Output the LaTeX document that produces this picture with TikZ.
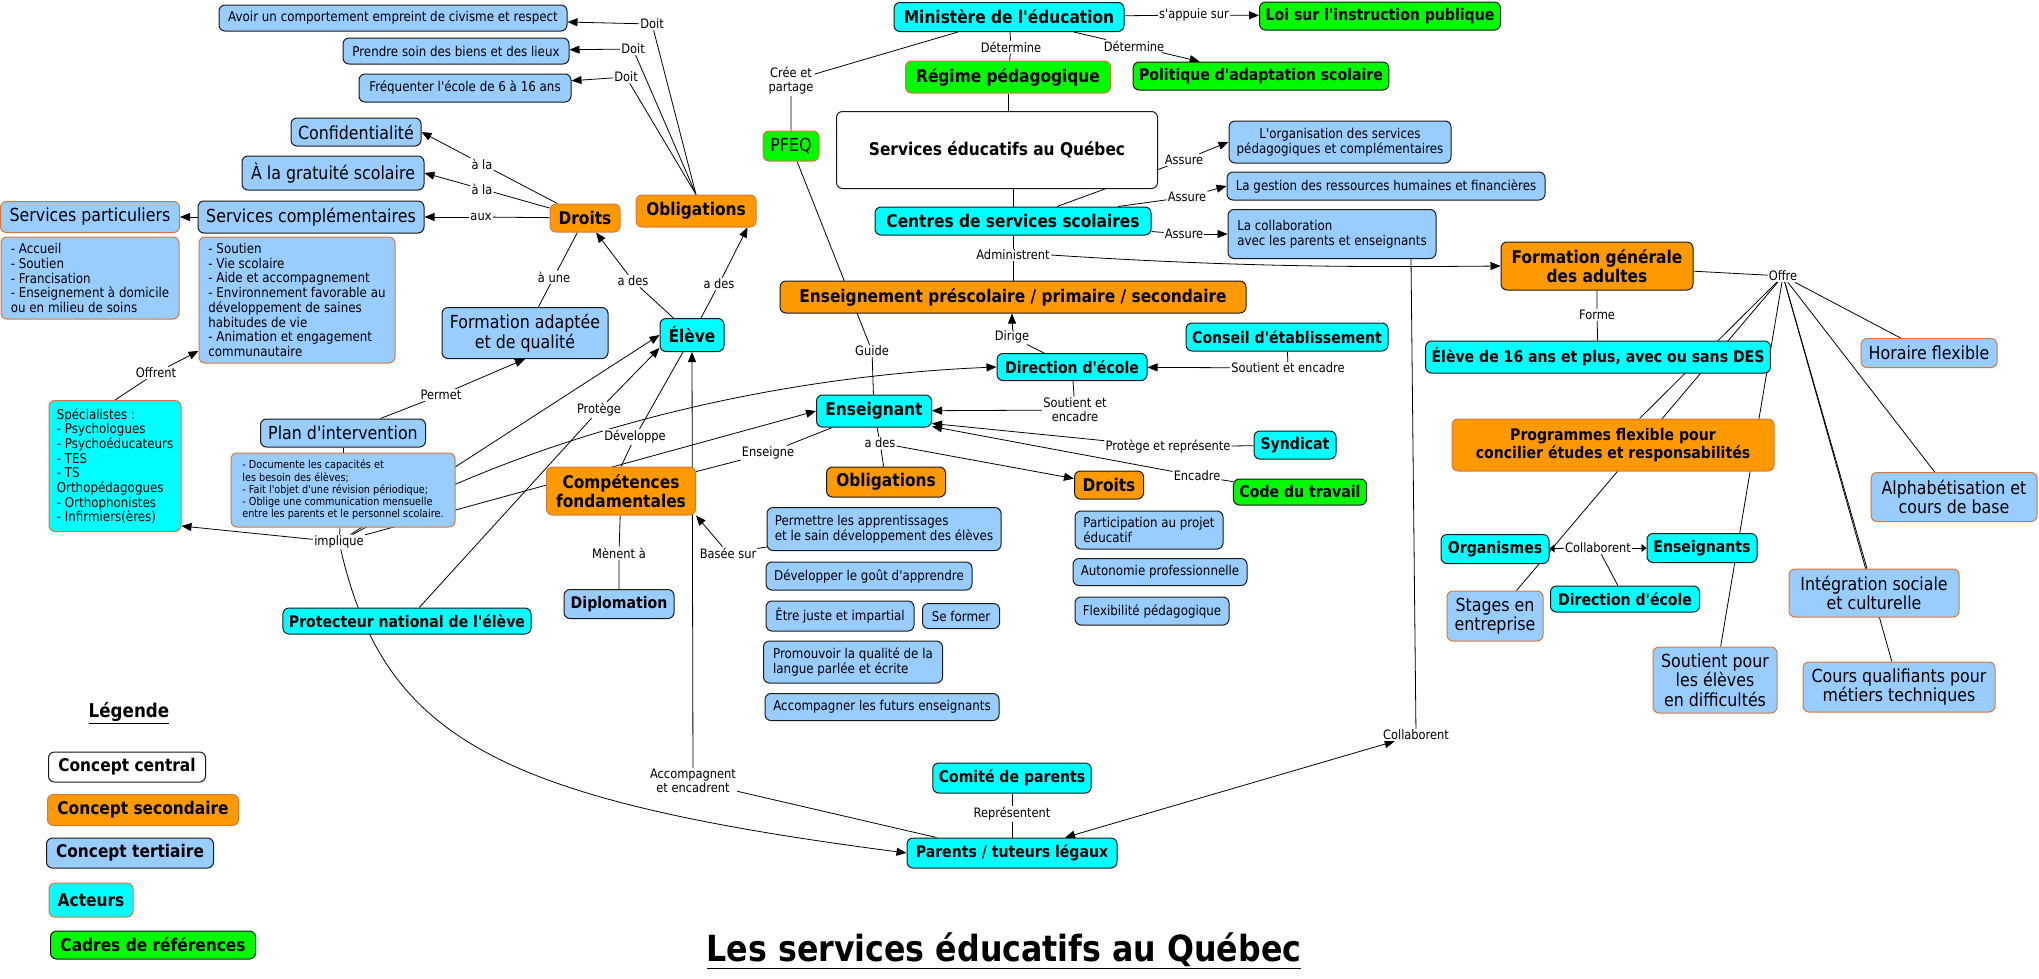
\documentclass[tikz,border=0pt]{standalone}
\usepackage{fontspec}
\setmainfont{DejaVu Sans}[FakeStretch=0.88,Ligatures=TeXOff]
\usetikzlibrary{arrows.meta,backgrounds,positioning}

\definecolor{orsec}{RGB}{255,153,0}
\definecolor{bluter}{RGB}{153,204,255}
\definecolor{cyact}{RGB}{0,255,255}
\definecolor{grref}{RGB}{0,250,0}
\definecolor{brdor}{RGB}{214,120,60}
\definecolor{brdk}{RGB}{25,25,25}

\newcommand{\fsm}{\fontsize{13.5}{14.7}\selectfont}
\newcommand{\fxs}{\fontsize{11}{12.2}\selectfont}
\newcommand{\fbig}{\fontsize{18}{19.5}\selectfont}
\newcommand{\fmid}{\fontsize{16}{17.5}\selectfont}
\newcommand{\fhi}{\fontsize{17.5}{19}\selectfont}
\newcommand{\flab}{\fontsize{13}{14}\selectfont}
\newcommand{\fleg}{\fontsize{19}{21}\selectfont}
\newcommand{\ftit}{\fontsize{36}{40}\selectfont}

\begin{document}
\begin{tikzpicture}[
x=1pt, y=-1pt,
box/.style = {draw=brdk, line width=1pt, rounded corners=6pt,
              inner xsep=6pt, inner ysep=3pt, minimum height=26pt},
cmain/.style = {box, fill=white, font=\fhi\bfseries},
csec/.style = {box, fill=orsec, draw=brdor, font=\fhi\bfseries},
cter/.style = {box, fill=bluter, font=\fsm},
cact/.style = {box, fill=cyact, font=\fmid\bfseries},
cref/.style = {box, fill=grref, font=\fmid\bfseries},
obrd/.style = {draw=brdor},
dbrd/.style = {draw=brdk},
lbl/.style = {font=\flab, fill=white, inner sep=1pt, align=center},
arr/.style = {-{Triangle[length=10pt,width=8pt]}},
arrb/.style = {{Triangle[length=10pt,width=8pt]}-{Triangle[length=10pt,width=8pt]}},
arrs/.style = {-{Triangle[length=5pt,width=8pt]}}
                ]
%% cadre
\useasboundingbox (0,0) rectangle (2039,978);

%% eleve : obligations et droits
\node (avoir) [cter, minimum width=348] at (393,18) {Avoir un comportement empreint de civisme et respect};
\node (soin) [cter, minimum width=226] at (456,51) {Prendre soin des biens et des lieux};
\node (freq) [cter, minimum width=212, minimum height=28] at (465,88) {Fréquenter l'école de 6 à 16 ans};
\node (conf) [cter, font=\fbig, minimum width=130, minimum height=28] at (356,132) {Confidentialité};
\node (grat) [cter, font=\fbig, minimum width=182, minimum height=34] at (333,173) {À la gratuité scolaire};
\node (scomp) [cter, font=\fbig, minimum width=226, minimum height=32] at (311,217) {Services complémentaires};
\node (spart) [cter, obrd, font=\fbig, minimum width=179, minimum height=31] at (90,217) {Services particuliers};
\node (spartl) [cter, obrd, align=left, minimum width=178, minimum height=82] at (90,278)
  {- Accueil\\- Soutien\\- Francisation\\- Enseignement à domicile\\ou en milieu de soins};
\node (scompl) [cter, obrd, align=left, minimum width=196, minimum height=126] at (297,300)
  {- Soutien\\- Vie scolaire\\- Aide et accompagnement\\- Environnement favorable au\\développement de saines\\habitudes de vie\\- Animation et engagement\\communautaire};
\node (dr1) [csec, minimum width=70, minimum height=28] at (585,218) {Droits};
\node (ob1) [csec, minimum width=120, minimum height=32] at (696,211) {Obligations};
\node (fadapt) [cter, font=\fbig, align=center, minimum width=166, minimum height=51] at (525,333) {Formation adaptée\\et de qualité};
\node (eleve) [cact, font=\fhi\bfseries, minimum width=64, minimum height=33] at (692,335) {Élève};
\node (plan) [cter, font=\fbig, minimum width=165, minimum height=28] at (343,433) {Plan d'intervention};
\node (planl) [cter, obrd, font=\fxs, align=left, minimum width=224, minimum height=74, below=5pt of plan]
  {- Documente les capacités et\\les besoin des élèves;\\- Fait l'objet d'une révision périodique;\\- Oblige une communication mensuelle\\entre les parents et le personnel scolaire.};
\node (spec) [cact, obrd, font=\fsm, align=left, minimum width=132, minimum height=131] at (115,466)
  {Spécialistes :\\- Psychologues\\- Psychoéducateurs\\- TES\\- TS\\Orthopédagogues\\- Orthophonistes\\- Infirmiers(ères)};
\node (prot) [cact, minimum width=248] at (407,621) {Protecteur national de l'élève};
\node (comp) [csec, align=center, minimum width=149, minimum height=48] at (621,491) {Compétences\\fondamentales};
\node (dipl) [cter, font=\fmid\bfseries, minimum width=110, minimum height=29] at (619,604) {Diplomation};

%% ministere et centres
\node (pfeq) [cref, obrd, font=\fbig, minimum width=56, minimum height=30] at (791,146) {PFEQ};
\node (mins) [cact, font=\fhi\bfseries, minimum width=230, minimum height=29] at (1009,17) {Ministère de l'éducation};
\node (loi) [cref, minimum width=241, minimum height=28] at (1380,16) {Loi sur l'instruction publique};
\node (reg) [cref, obrd, font=\fhi\bfseries, minimum width=205, minimum height=32] at (1008,77) {Régime pédagogique};
\node (pol) [cref, minimum width=254, minimum height=28] at (1261,76) {Politique d'adaptation scolaire};
\node (sedu) [cmain, minimum width=321, minimum height=77] at (997,150) {Services éducatifs au Québec};
\node (css) [cact, font=\fhi\bfseries, minimum width=276, minimum height=28] at (1013,221) {Centres de services scolaires};
\node (orgs) [cter, align=center, minimum width=222, minimum height=42] at (1340,142) {L'organisation des services\\pédagogiques et complémentaires};
\node (gest) [cter, minimum width=318, minimum height=28] at (1386,186) {La gestion des ressources humaines et financières};
\node (colab) [cter, align=left, minimum width=208, minimum height=49] at (1332,234) {La collaboration\\avec les parents et enseignants};
\node (enspre) [csec, dbrd, minimum width=466, minimum height=32] at (1013,297) {Enseignement préscolaire / primaire / secondaire};

%% formation des adultes
\node (fga) [csec, dbrd, align=center, minimum width=192, minimum height=48] at (1597,266) {Formation générale\\des adultes};
\node (el16) [cact, minimum width=342, minimum height=32] at (1598,357) {Élève de 16 ans et plus, avec ou sans DES};
\node (hor) [cter, obrd, font=\fbig, minimum width=136, minimum height=29] at (1929,353) {Horaire flexible};
\node (prog) [csec, font=\fmid\bfseries, align=center, minimum width=322, minimum height=52] at (1613,445) {Programmes flexible pour\\concilier études et responsabilités};
\node (alpha) [cter, obrd, font=\fbig, align=center, minimum width=166, minimum height=49] at (1954,497) {Alphabétisation et\\cours de base};
\node (orga) [cact, minimum width=108, minimum height=29] at (1495,549) {Organismes};
\node (enss) [cact, minimum width=110, minimum height=29] at (1702,548) {Enseignants};
\node (dir2) [cact, minimum width=149] at (1625,599) {Direction d'école};
\node (stage) [cter, obrd, font=\fbig, align=center, minimum width=96, minimum height=50] at (1495,616) {Stages en\\entreprise};
\node (sout) [cter, obrd, font=\fbig, align=center, minimum width=124, minimum height=66] at (1715,680) {Soutient pour\\les élèves\\en difficultés};
\node (integ) [cter, obrd, font=\fbig, align=center, minimum width=170, minimum height=48] at (1874,593) {Intégration sociale\\et culturelle};
\node (cours) [cter, obrd, font=\fbig, align=center, minimum width=192, minimum height=50] at (1899,687) {Cours qualifiants pour\\métiers techniques};

%% ecole
\node (dir1) [cact, minimum width=150, minimum height=27] at (1072,367) {Direction d'école};
\node (cons) [cact, minimum width=202, minimum height=28] at (1287,337) {Conseil d'établissement};
\node (ensg) [cact, font=\fhi\bfseries, minimum width=115, minimum height=32] at (874,411) {Enseignant};
\node (ob2) [csec, dbrd, minimum width=119, minimum height=30] at (886,482) {Obligations};
\node (dr2) [csec, dbrd, minimum width=69, minimum height=28] at (1109,485) {Droits};
\node (synd) [cact, minimum width=82, minimum height=28] at (1295,445) {Syndicat};
\node (code) [cref, minimum width=133] at (1300,492) {Code du travail};
\node (part) [cter, align=left, minimum width=148, minimum height=38] at (1149,530) {Participation au projet\\éducatif};
\node (auton) [cter, minimum width=174, minimum height=27] at (1160,572) {Autonomie professionnelle};
\node (flex) [cter, minimum width=154, minimum height=28] at (1152,611) {Flexibilité pédagogique};
\node (perm) [cter, align=left, minimum width=234, minimum height=43] at (884,529) {Permettre les apprentissages\\et le sain développement des élèves};
\node (goutapp) [cter, minimum width=206, minimum height=28] at (869,576) {Développer le goût d'apprendre};
\node (juste) [cter, minimum width=148, minimum height=30] at (840,616) {Être juste et impartial};
\node (former) [cter, minimum width=77, minimum height=25] at (961,616) {Se former};
\node (promo) [cter, align=left, minimum width=179, minimum height=42] at (853,662) {Promouvoir la qualité de la\\langue parlée et écrite};
\node (futur) [cter, minimum width=234, minimum height=27] at (882,707) {Accompagner les futurs enseignants};
\node (comite) [cact, minimum width=158, minimum height=30] at (1012,778) {Comité de parents};
\node (par) [cact, minimum width=210, minimum height=30] at (1012,853) {Parents / tuteurs légaux};

%% mots de liaison
\node (d1) [lbl] at (652,24) {Doit};
\node (d2) [lbl] at (633,49) {Doit};
\node (d3) [lbl] at (626,77) {Doit};
\node (la1) [lbl] at (482,164) {à la};
\node (la2) [lbl] at (482,189) {à la};
\node (aux) [lbl] at (481,217) {aux};
\node (aune) [lbl] at (554,277) {à une};
\node (ades1) [lbl] at (633,281) {a des};
\node (ades2) [lbl] at (719,284) {a des};
\node (offrent) [lbl] at (156,373) {Offrent};
\node (permet) [lbl] at (441,395) {Permet};
\node (impl) [lbl] at (339,542) {implique};
\node (protege) [lbl] at (599,410) {Protège};
\node (devel) [lbl] at (635,437) {Développe};
\node (enseigne) [lbl] at (768,453) {Enseigne};
\node (guide) [lbl] at (872,351) {Guide};
\node (dirige) [lbl] at (1012,337) {Dirige};
\node (soutc) [lbl] at (1288,368) {Soutient et encadre};
\node (soute) [lbl] at (1075,410) {Soutient et\\encadre};
\node (ades3) [lbl] at (880,443) {a des};
\node (proteg) [lbl] at (1168,447) {Protège et représente};
\node (encadre) [lbl] at (1197,476) {Encadre};
\node (menent) [lbl] at (619,553) {Mènent à};
\node (basee) [lbl] at (728,553) {Basée sur};
\node (accomp) [lbl] at (693,781) {Accompagnent\\et encadrent};
\node (repres) [lbl] at (1012,814) {Représentent};
\node (collab1) [lbl] at (1416,735) {Collaborent};
\node (cree) [lbl] at (791,81) {Crée et\\partage};
\node (det1) [lbl] at (1011,47) {Détermine};
\node (det2) [lbl] at (1134,46) {Détermine};
\node (appuie) [lbl] at (1194,15) {s'appuie sur};
\node (as1) [lbl] at (1184,160) {Assure};
\node (as2) [lbl] at (1187,197) {Assure};
\node (as3) [lbl] at (1184,234) {Assure};
\node (admin) [lbl] at (1013,255) {Administrent};
\node (offre) [lbl] at (1783,276) {Offre};
\node (forme) [lbl] at (1597,315) {Forme};
\node (collab2) [lbl] at (1598,548) {Collaborent};

%% legende et titre
\node (leg) [font=\fleg\bfseries] at (129,713) {\underline{Légende}};
\node (lc1) [cmain, minimum width=157, minimum height=30] at (127,767) {Concept central};
\node (lc2) [csec, minimum width=191, minimum height=31] at (143,810) {Concept secondaire};
\node (lc3) [cter, font=\fhi\bfseries, minimum width=167, minimum height=30] at (130,853) {Concept tertiaire};
\node (lc4) [cact, obrd, font=\fhi\bfseries, minimum width=84, minimum height=34] at (91,900) {Acteurs};
\node (lc5) [cref, font=\fhi\bfseries, minimum width=205, minimum height=28] at (153,945) {Cadres de références};
\node (titre) [font=\ftit\bfseries] at (1004,951) {\underline{Les services éducatifs au Québec}};

%% liens
\begin{scope}[on background layer]
\begin{scope}[line width=0.8pt]
\draw (ob1.north) -- (d1);  \draw[arr] (d1) -- (avoir);
\draw (ob1.north) -- (d2);  \draw[arr] (d2) -- (soin);
\draw (ob1.north) -- (d3);  \draw[arr] (d3) -- (freq);
\draw (dr1) -- (la1);  \draw[arr] (la1) -- (conf.east);
\draw (dr1) -- (la2);  \draw[arr] (la2) -- (grat.east);
\draw (dr1) -- (aux);  \draw[arr] (aux) -- (scomp);
\draw[arr] (scomp) -- (spart);
\draw (dr1) -- (aune) -- (fadapt);
\draw (eleve) -- (ades1);  \draw[arr] (ades1) -- (dr1);
\draw (eleve) -- (ades2);  \draw[arr] (ades2) -- ([xshift=-9pt]ob1.south east);
\draw (spec.north) -- (offrent);  \draw[arr] (offrent) -- (scompl);
\draw (plan) -- (permet);  \draw[arr] (permet) -- (fadapt.south);
\draw (plan) -- (planl);
\draw (planl) -- (impl);
\draw[arr] (impl) -- ([yshift=6pt]spec.south east);
\draw[arr] (impl) -- (eleve.west);
\draw[arr] (impl) -- (ensg.west);
\draw[arr] (impl) .. controls (560,420) and (800,375) .. (dir1.west);
\draw[arr] (impl) .. controls (385,740) and (500,800) .. (par.west);
\draw (prot) -- (protege);  \draw[arr] (protege) -- ([yshift=4pt]eleve.south west);
\draw (comp.north) -- (devel) -- ([xshift=-9pt]eleve.south);
\draw ([xshift=30pt]par.north west) -- (accomp);  \draw[arr] (accomp) -- (eleve.south);
\draw (ensg) -- (enseigne) -- (comp);
\draw (pfeq) -- (guide) -- (ensg);
\draw (mins) -- (cree) -- (pfeq);
\draw (mins) -- (det1) -- (reg);
\draw (mins) -- (det2);  \draw[arr] (det2) -- (pol);
\draw (mins) -- (appuie);  \draw[arr] (appuie) -- (loi);
\draw (reg) -- (reg |- sedu.north);
\draw (css) -- (css |- sedu.south);
\draw ([xshift=44pt]css.north) -- (as1);  \draw[arr] (as1) -- (orgs.west);
\draw (css) -- (as2);  \draw[arr] (as2) -- (gest.west);
\draw (css) -- (as3);  \draw[arr] (as3) -- (colab.west);
\draw ([xshift=79pt]colab.south) -- (collab1);  \draw[arrb] (collab1) -- (par);
\draw (css) -- (admin) -- (enspre);
\draw[arr] (admin.east) .. controls (1250,268) and (1380,267) .. (fga.west);
\draw (dir1) -- (dirige);  \draw[arr] (dirige) -- (dirige |- enspre.south);
\draw (cons) -- (soutc);  \draw[arr] (soutc) -- (dir1);
\draw (dir1) -- (soute);  \draw[arr] (soute) -- (ensg);
\draw (synd) -- (proteg);  \draw[arr] (proteg) -- ([yshift=4pt]ensg.south east);
\draw (code) -- (encadre);  \draw[arr] (encadre) -- ([yshift=1pt]ensg.south east);
\draw (ensg) -- (ades3) -- (ob2);  \draw[arr] (ades3) -- (dr2);
\draw (comp) -- (menent) -- (dipl);
\draw (perm) -- (basee);  \draw[arr] (basee) -- (comp.south east);
\draw (comite) -- (repres) -- (par);
\draw (fga) -- (forme) -- (el16);
\draw (fga) -- (offre);
\foreach \cible in {hor,alpha,integ,cours,sout,prog,stage}
  \draw (offre) -- (\cible);
\draw (dir2) -- (collab2);
\draw[arrs] (collab2) -- (orga);
\draw[arrs] (collab2) -- (enss);
\end{scope}
\end{scope}
%%
\end{tikzpicture}
\end{document}
